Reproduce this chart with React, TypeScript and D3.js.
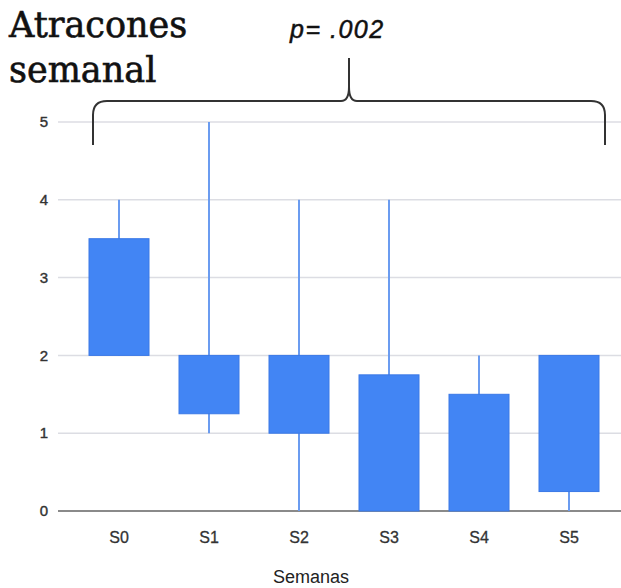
import React from "react";
import * as d3 from "d3";

const weeks = ["S0", "S1", "S2", "S3", "S4", "S5"];
const lows = [2, 1, 0, 0, 0, 0];
const opens = [2, 1.25, 1, 0, 0, 0.25];
const closes = [3.5, 2, 2, 1.75, 1.5, 2];
const highs = [4, 5, 4, 4, 2, 2];
const yTicks = [0, 1, 2, 3, 4, 5];

const W = 621;
const H = 588;
const sans = "Liberation Sans, Arial, sans-serif";

export default function App() {
  const x = d3
    .scaleBand<string>()
    .domain(weeks)
    .range([74, 614])
    .paddingInner(1 / 3)
    .paddingOuter(1 / 6);
  const y = d3.scaleLinear().domain([0, 5]).range([511, 122]);

  const left = 93;
  const right = 605;
  const mid = 349;
  const top = 101;
  const brace =
    `M${left},145 L${left},${top + 14} Q${left},${top} ${left + 14},${top} ` +
    `L${mid - 8},${top} Q${mid},${top} ${mid},${top - 14} L${mid},58 ` +
    `M${mid},${top - 14} Q${mid},${top} ${mid + 8},${top} ` +
    `L${right - 14},${top} Q${right},${top} ${right},${top + 14} L${right},145`;

  return (
    <svg width={W} height={H} style={{ position: "absolute", left: 0, top: 0 }}>
      <rect width={W} height={H} fill="#fff" />
      {yTicks.map((t) => (
        <g key={t}>
          <line
            x1={58}
            x2={W}
            y1={y(t)}
            y2={y(t)}
            stroke={t === 0 ? "#8a8a8a" : "#dcdde3"}
            strokeWidth={t === 0 ? 2 : 1.5}
          />
          <text
            x={48}
            y={y(t)}
            dy="0.35em"
            textAnchor="end"
            fontFamily={sans}
            fontSize={15}
            fill="#333"
            stroke="#333"
            strokeWidth={0.4}
          >
            {t}
          </text>
        </g>
      ))}
      {weeks.map((w, i) => {
        const cx = (x(w) as number) + x.bandwidth() / 2;
        const lo = Math.min(opens[i], closes[i]);
        const hi = Math.max(opens[i], closes[i]);
        return (
          <g key={w}>
            <line
              x1={cx}
              x2={cx}
              y1={y(highs[i])}
              y2={y(lows[i])}
              stroke="#6b9cf0"
              strokeWidth={2}
            />
            <rect
              x={x(w)}
              y={y(hi)}
              width={x.bandwidth()}
              height={y(lo) - y(hi)}
              fill="#4285f4"
              stroke="#3a78e6"
              strokeWidth={1}
            />
            <text
              x={cx}
              y={537}
              dy="0.35em"
              textAnchor="middle"
              fontFamily={sans}
              fontSize={16}
              fill="#333"
              stroke="#333"
              strokeWidth={0.3}
            >
              {w}
            </text>
          </g>
        );
      })}
      <text x={311} y={583} textAnchor="middle" fontFamily={sans} fontSize={18} fill="#222">
        Semanas
      </text>
      <path d={brace} fill="none" stroke="#333" strokeWidth={2} />
      <text
        x={9}
        y={37}
        fontFamily="DejaVu Serif, serif"
        fontSize={35}
        fill="#111"
        stroke="#111"
        strokeWidth={0.6}
      >
        Atracones
      </text>
      <text
        x={9}
        y={82}
        fontFamily="DejaVu Serif, serif"
        fontSize={35}
        fill="#111"
        stroke="#111"
        strokeWidth={0.6}
      >
        semanal
      </text>
      <text
        x={290}
        y={38}
        fontFamily={sans}
        fontStyle="italic"
        fontSize={25}
        letterSpacing={1.5}
        fill="#111"
        stroke="#111"
        strokeWidth={0.5}
      >
        p= .002
      </text>
    </svg>
  );
}
